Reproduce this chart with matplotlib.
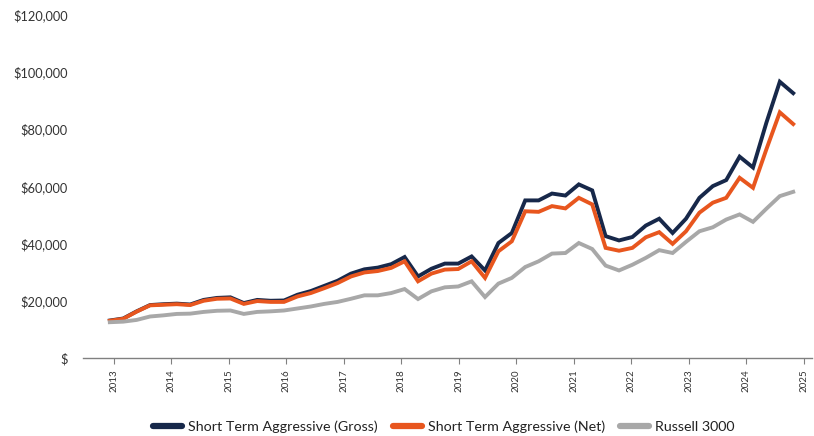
import matplotlib
matplotlib.use('Agg')
import matplotlib.pyplot as plt
from matplotlib.ticker import FuncFormatter

# quarterly growth of $ values
gross = [13.1, 13.8, 16.3, 18.5, 18.8, 19.0, 18.7, 20.3, 21.0, 21.2,
         19.2, 20.3, 20.0, 20.1, 22.1, 23.4, 25.2, 27.0, 29.5, 31.0,
         31.6, 32.8, 35.3, 28.5, 31.2, 33.0, 33.0, 35.5, 30.6, 40.2,
         43.7, 55.1, 55.1, 57.5, 56.8, 60.7, 58.6, 42.6, 41.1, 42.3,
         46.3, 48.7, 43.7, 48.7, 56.0, 60.1, 62.2, 70.4, 66.6, 82.3,
         96.6, 92.6]
net = [13.0, 13.7, 16.2, 18.4, 18.6, 18.8, 18.5, 20.0, 20.7, 20.8,
       18.9, 19.9, 19.6, 19.6, 21.5, 22.7, 24.4, 26.2, 28.5, 29.9,
       30.4, 31.5, 33.8, 26.8, 29.5, 30.9, 31.1, 33.8, 28.0, 37.3,
       40.8, 51.3, 51.1, 53.1, 52.3, 56.0, 53.7, 38.5, 37.5, 38.5,
       42.2, 44.0, 39.9, 44.3, 50.8, 54.3, 56.0, 63.0, 59.5, 73.0,
       85.9, 81.8]
russell = [12.5, 12.7, 13.3, 14.5, 14.9, 15.4, 15.5, 16.1, 16.5, 16.6,
           15.4, 16.1, 16.3, 16.6, 17.3, 18.0, 18.9, 19.6, 20.7, 21.9,
           21.9, 22.7, 24.1, 20.6, 23.3, 24.7, 25.0, 26.8, 21.3, 26.0,
           28.0, 31.8, 33.8, 36.5, 36.7, 40.2, 38.1, 32.3, 30.6, 32.6,
           35.0, 37.7, 36.7, 40.6, 44.3, 45.7, 48.4, 50.2, 47.6, 52.2,
           56.6, 58.1]
years = ['2013', '2014', '2015', '2016', '2017', '2018', '2019',
         '2020', '2021', '2022', '2023', '2024', '2025']
labels = ['Short Term Aggressive (Gross)', 'Short Term Aggressive (Net)', 'Russell 3000']
colors = ['#17284a', '#e8561e', '#a8a8a8']

x = list(range(len(gross)))

fig = plt.figure(figsize=(8.14, 4.36), dpi=100)
ax = fig.add_axes([0.102, 0.179, 0.8955, 0.787])

for vals, lab, col in zip([gross, net, russell], labels, colors):
    ax.plot(x, [v * 1000 for v in vals], color=col, lw=2.8, label=lab,
            solid_joinstyle='miter')

ax.set_ylim(0, 120000)
ax.set_xlim(-2.0, 52.4)
ax.set_yticks(range(0, 120001, 20000))
ax.yaxis.set_major_formatter(FuncFormatter(lambda v, p: '$' if v == 0 else f'${v:,.0f}'))

# year labels sit evenly across the axis, not on the quarter points
ax.set_xticks([0.3 + 4.29 * k for k in range(len(years))])
ax.set_xticklabels(years, rotation=90, fontsize=7, color='#333333', family='Lato')

for s in ['top', 'right', 'left']:
    ax.spines[s].set_visible(False)
ax.spines['bottom'].set_color('#808080')
ax.spines['bottom'].set_linewidth(1.0)
ax.tick_params(axis='y', length=0, pad=11, labelsize=9.2, labelcolor='#333333')
ax.tick_params(axis='x', length=4, width=0.8, color='#808080', pad=4)
for t in ax.get_yticklabels():
    t.set_family('Lato')

leg = ax.legend(loc='center', bbox_to_anchor=(0.495, -0.2), ncol=3, frameon=False,
                prop={'family': 'Lato', 'size': 10.3}, handlelength=2.0,
                handletextpad=0.4, columnspacing=1.1)
for h in leg.get_lines():
    h.set_linewidth(4.5)
    h.set_solid_capstyle('round')
for t in leg.get_texts():
    t.set_color('#222222')

fig.savefig('out.png', dpi=100)
